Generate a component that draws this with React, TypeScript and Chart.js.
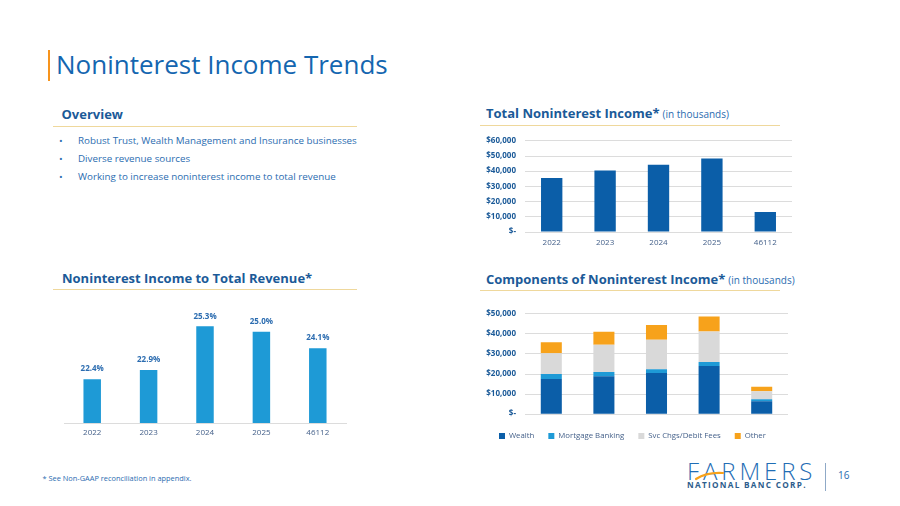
import React, { useEffect, useRef } from "react";
import { Chart, registerables, ChartConfiguration, Plugin } from "chart.js";

Chart.register(...registerables);

const FONT = "'Open Sans', 'DejaVu Sans', sans-serif";
Chart.defaults.font.family = FONT;

// Fiscal periods on every category axis
const periods = ["2022", "2023", "2024", "2025", "46112"];

// Total noninterest income, $ thousands
const totalNoninterestIncome = [35500, 40500, 44200, 48400, 13100];

// Noninterest income as a share of total revenue, %
const incomeShareOfRevenue = [22.4, 22.9, 25.3, 25.0, 24.1];

// Components of noninterest income, $ thousands
const wealthIncome = [17500, 18900, 20500, 24000, 6500];
const mortgageBankingIncome = [2500, 2100, 1900, 2000, 1000];
const svcChargeDebitFees = [10300, 13600, 14700, 15200, 3900];
const otherIncome = [5500, 6500, 7300, 7500, 2300];

const componentNames = ["Wealth", "Mortgage Banking", "Svc Chgs/Debit Fees", "Other"];

const overviewPoints = [
  "Robust Trust, Wealth Management and Insurance businesses",
  "Diverse revenue sources",
  "Working to increase noninterest income to total revenue",
];

const DARK_BLUE = "#0B5EA8";
const LIGHT_BLUE = "#1E9AD6";
const GRAY = "#D9D9D9";
const ORANGE = "#F7A21B";
const GRID = "#DCDCDC";
const HEAD_BLUE = "#1B5A98";
const TEXT_BLUE = "#2B6CB0";
const AXIS_TEXT = "#45618A";
const GOLD = "#EFD89C";

const dollarTick = (v: number | string) =>
  Number(v) === 0 ? "$-" : "$" + Number(v).toLocaleString("en-US");

const fixWidth = (w: number) => (scale: any) => {
  scale.width = w;
};
const fixHeight = (h: number) => (scale: any) => {
  scale.height = h;
};

function totalConfig(): ChartConfiguration {
  return {
    type: "bar",
    data: {
      labels: periods,
      datasets: [
        {
          data: totalNoninterestIncome,
          backgroundColor: DARK_BLUE,
          barPercentage: 0.4,
          categoryPercentage: 1,
        },
      ],
    },
    options: {
      responsive: false,
      animation: false,
      layout: { padding: { top: 0, right: 8, left: 0, bottom: 0 } },
      plugins: { legend: { display: false }, tooltip: { enabled: false } },
      scales: {
        x: {
          afterFit: fixHeight(20),
          grid: { display: false, drawTicks: false },
          border: { display: false },
          ticks: { color: AXIS_TEXT, font: { size: 8 }, padding: 6 },
        },
        y: {
          afterFit: fixWidth(45),
          min: 0,
          max: 60000,
          ticks: {
            stepSize: 10000,
            callback: dollarTick,
            color: HEAD_BLUE,
            font: { size: 8, weight: "bold" },
            padding: 9,
          },
          grid: { color: GRID, drawTicks: false },
          border: { display: false },
        },
      },
    },
  } as ChartConfiguration;
}

const percentLabels: Plugin = {
  id: "percentLabels",
  afterDatasetsDraw(chart) {
    const ctx = chart.ctx;
    const meta = chart.getDatasetMeta(0);
    ctx.save();
    ctx.font = `bold 8px ${FONT}`;
    ctx.fillStyle = TEXT_BLUE;
    ctx.textAlign = "center";
    ctx.textBaseline = "middle";
    meta.data.forEach((bar: any, i: number) => {
      ctx.fillText(incomeShareOfRevenue[i].toFixed(1) + "%", bar.x, bar.y - 10);
    });
    ctx.restore();
  },
};

function shareConfig(): ChartConfiguration {
  return {
    type: "bar",
    data: {
      labels: periods,
      datasets: [
        {
          data: incomeShareOfRevenue,
          backgroundColor: LIGHT_BLUE,
          barPercentage: 0.31,
          categoryPercentage: 1,
        },
      ],
    },
    options: {
      responsive: false,
      animation: false,
      layout: { padding: { top: 13.5, right: 24, left: 14, bottom: 0 } },
      plugins: { legend: { display: false }, tooltip: { enabled: false } },
      scales: {
        x: {
          afterFit: fixHeight(22),
          grid: { display: false, drawTicks: false },
          border: { display: true, color: GRID, width: 1 },
          ticks: { color: AXIS_TEXT, font: { size: 8 }, padding: 5 },
        },
        y: { display: false, min: 20, max: 26 },
      },
    },
    plugins: [percentLabels],
  } as ChartConfiguration;
}

function componentsConfig(): ChartConfiguration {
  const series = [wealthIncome, mortgageBankingIncome, svcChargeDebitFees, otherIncome];
  const colors = [DARK_BLUE, LIGHT_BLUE, GRAY, ORANGE];
  return {
    type: "bar",
    data: {
      labels: periods,
      datasets: series.map((values, i) => ({
        label: componentNames[i],
        data: values,
        backgroundColor: colors[i],
        barPercentage: 0.4,
        categoryPercentage: 1,
      })),
    },
    options: {
      responsive: false,
      animation: false,
      layout: { padding: { top: 0, right: 12, left: 5, bottom: 0 } },
      plugins: {
        tooltip: { enabled: false },
        legend: {
          position: "bottom",
          align: "start",
          labels: {
            boxWidth: 6,
            boxHeight: 6,
            padding: 14,
            color: AXIS_TEXT,
            font: { size: 7.8 },
          },
        },
      },
      scales: {
        x: {
          stacked: true,
          afterFit: fixHeight(4),
          grid: { display: false, drawTicks: false },
          border: { display: false },
          ticks: { color: AXIS_TEXT, font: { size: 8 }, padding: 5 },
        },
        y: {
          stacked: true,
          afterFit: fixWidth(40),
          min: 0,
          max: 50000,
          ticks: {
            stepSize: 10000,
            callback: dollarTick,
            color: HEAD_BLUE,
            font: { size: 8, weight: "bold" },
            padding: 9,
          },
          grid: { color: GRID, drawTicks: false },
          border: { display: false },
        },
      },
    },
  } as ChartConfiguration;
}

function ChartBox(props: {
  make: () => ChartConfiguration;
  left: number;
  top: number;
  width: number;
  height: number;
}) {
  const ref = useRef<HTMLCanvasElement>(null);
  useEffect(() => {
    const chart = new Chart(ref.current as HTMLCanvasElement, props.make());
    return () => chart.destroy();
  }, []);
  return (
    <canvas
      ref={ref}
      width={props.width}
      height={props.height}
      style={{
        position: "absolute",
        left: props.left,
        top: props.top,
        width: props.width,
        height: props.height,
      }}
    />
  );
}

// Text placed by its baseline (Open Sans ascent ≈ 0.888em inside a 1em line box)
function Text(props: {
  left: number;
  baseline: number;
  size: number;
  color: string;
  weight?: number | string;
  spacing?: number;
  children: React.ReactNode;
}) {
  return (
    <div
      style={{
        position: "absolute",
        left: props.left,
        top: props.baseline - props.size * 0.888,
        fontSize: props.size,
        lineHeight: `${props.size}px`,
        color: props.color,
        fontWeight: props.weight ?? 400,
        letterSpacing: props.spacing ?? 0,
        whiteSpace: "nowrap",
        fontFamily: FONT,
      }}
    >
      {props.children}
    </div>
  );
}

function Rule(props: { left: number; top: number; width: number; height: number; color: string }) {
  return (
    <div
      style={{
        position: "absolute",
        left: props.left,
        top: props.top,
        width: props.width,
        height: props.height,
        background: props.color,
      }}
    />
  );
}

function SectionHead(props: {
  left: number;
  baseline: number;
  title: string;
  note?: string;
  lineLeft: number;
  lineWidth: number;
}) {
  return (
    <>
      <Text left={props.left} baseline={props.baseline} size={13} color={HEAD_BLUE} weight={700}>
        {props.title}
        {props.note && (
          <span style={{ fontWeight: 400, fontSize: 10, color: TEXT_BLUE, marginLeft: 3 }}>
            {props.note}
          </span>
        )}
      </Text>
      <Rule left={props.lineLeft} top={props.baseline + 5.5} width={props.lineWidth} height={1.5} color={GOLD} />
    </>
  );
}

export default function App() {
  return (
    <div
      style={{
        position: "absolute",
        left: 0,
        top: 0,
        width: 900,
        height: 506,
        overflow: "hidden",
        background: "#FFFFFF",
        fontFamily: FONT,
      }}
    >
      <Rule left={48} top={50} width={1.5} height={31} color="#F7941D" />
      <Text left={56} baseline={74.3} size={26} color="#1466B0">
        Noninterest Income Trends
      </Text>

      <SectionHead left={61.5} baseline={120} title="Overview" lineLeft={53} lineWidth={304} />
      {overviewPoints.map((p, i) => (
        <React.Fragment key={p}>
          <Text left={59} baseline={144.5 + i * 18} size={9.8} color={TEXT_BLUE}>
            •
          </Text>
          <Text left={78} baseline={144.5 + i * 18} size={9.8} color={TEXT_BLUE}>
            {p}
          </Text>
        </React.Fragment>
      ))}

      <SectionHead
        left={486}
        baseline={119}
        title="Total Noninterest Income*"
        note="(in thousands)"
        lineLeft={480}
        lineWidth={300}
      />
      <ChartBox make={totalConfig} left={480} top={127} width={320} height={125} />

      <SectionHead
        left={62}
        baseline={283.3}
        title="Noninterest Income to Total Revenue*"
        lineLeft={53}
        lineWidth={304}
      />
      <ChartBox make={shareConfig} left={50} top={300} width={320} height={145} />

      <SectionHead
        left={486}
        baseline={284.3}
        title="Components of Noninterest Income*"
        note="(in thousands)"
        lineLeft={480}
        lineWidth={300}
      />
      <ChartBox make={componentsConfig} left={480} top={299.5} width={320} height={150.5} />

      <Text left={42.5} baseline={481.8} size={7.4} color={TEXT_BLUE}>
        * See Non-GAAP reconciliation in appendix.
      </Text>

      <Text left={687} baseline={480} size={24} color="#1F6DB5" weight={300} spacing={3.9}>
        FARMERS
      </Text>
      <svg
        width={40}
        height={20}
        style={{ position: "absolute", left: 693, top: 466 }}
        viewBox="0 0 40 20"
      >
        <path d="M3 13 Q14 6 30 7" stroke="#F7A21B" strokeWidth={2.2} fill="none" strokeLinecap="round" />
      </svg>
      <Text left={687} baseline={487.8} size={8.2} color="#2D5D8C" weight={700} spacing={1.3}>
        NATIONAL BANC CORP.
      </Text>
      <Rule left={825} top={463} width={1} height={28} color="#8FA9C7" />
      <Text left={838} baseline={478.6} size={10} color={TEXT_BLUE}>
        16
      </Text>
    </div>
  );
}
